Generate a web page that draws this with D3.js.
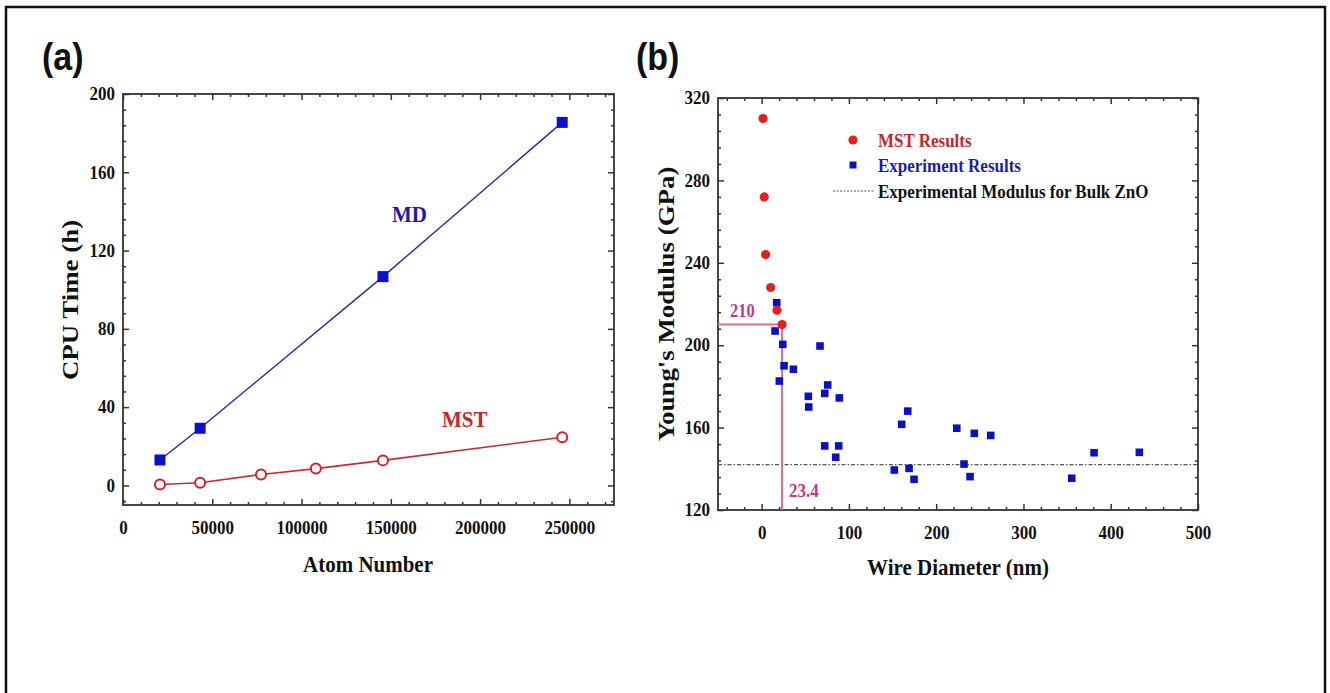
<!DOCTYPE html>
<html>
<head>
<meta charset="utf-8">
<script src="https://cdn.jsdelivr.net/npm/d3@7"></script>
<style>
  body { margin: 0; background: #fff; }
  svg text { font-family: "Liberation Serif", "Times New Roman", serif; font-weight: bold; }
</style>
</head>
<body>
<svg id="chart" width="1330" height="693"></svg>
<script>
// (a) CPU time vs atom number
const mdAtoms = [20700, 43200, 145600, 246000];
const mdTime = [13, 29.2, 106.7, 185.5];
const mstAtoms = [20700, 43200, 77300, 108000, 145600, 246000];
const mstTime = [0.5, 1.4, 5.6, 8.6, 12.8, 24.6];
const cpuXTicks = [0, 50000, 100000, 150000, 200000, 250000];
const cpuYTicks = [0, 40, 80, 120, 160, 200];

// (b) Young's modulus vs wire diameter
const mstDiam = [1.6, 3.0, 4.6, 10.4, 17.6, 23.4];
const mstModulus = [310, 272, 244, 228, 217, 210];
const expDiam = [17.3, 15.4, 24.2, 25.7, 36.4, 20.3, 66.9, 53.5, 54, 75.7, 72.3, 89, 72.3, 88.3,
  84.9, 160.5, 167.4, 152, 168.9, 174.6, 223.6, 243.7, 262.5, 231.9, 238.8, 355.3, 380.9, 432.8];
const expModulus = [220.6, 206.9, 200.4, 190, 188.3, 182.6, 199.6, 175.2, 170, 180.7, 176.6, 174.4, 151.1, 151.1,
  145.6, 161.6, 168, 139.4, 140.2, 134.9, 159.7, 157.2, 156.2, 142.3, 136.2, 135.4, 147.8, 148];
const bulkModulus = 142;
const markDiam = 23.4;
const markModulus = 210;
const wireXTicks = [0, 100, 200, 300, 400, 500];
const modYTicks = [120, 160, 200, 240, 280, 320];

// the source figure is a bit stretched vertically, so text gets a small y-scale
const stretch = 1.12;

const svg = d3.select('#chart');

// outer border of the figure
svg.append('path')
  .attr('d', 'M6,693 V7 H1325 V693')
  .attr('fill', 'none')
  .attr('stroke', '#111')
  .attr('stroke-width', 2.5);

const axisColor = '#333';

function label(g, x, y, txt, size, color, opts = {}) {
  const rot = opts.rotate ? ` rotate(${opts.rotate}) scale(${stretch},1)` : ` scale(1,${stretch})`;
  return g.append('text')
    .attr('transform', `translate(${x},${y})${rot}`)
    .attr('text-anchor', opts.anchor || 'start')
    .attr('font-size', size)
    .attr('fill', color)
    .text(txt);
}

// draws a boxed Origin-style frame with inward ticks on all four sides
function drawFrame(g, x, y, xMajor, xMinor, yMajor, yMinor, fmt) {
  const [x0, x1] = x.range();
  const [y0, y1] = y.range();

  const addAxis = (axis, transform, labels) => {
    const a = g.append('g').attr('transform', transform).call(axis);
    a.select('.domain').remove();
    a.selectAll('line').attr('stroke', axisColor).attr('stroke-width', 1.5);
    if (!labels) a.selectAll('text').remove();
    return a;
  };

  const bottom = addAxis(d3.axisBottom(x).tickValues(xMajor).tickSize(-6).tickPadding(11).tickFormat(fmt),
    `translate(0,${y0})`, true);
  bottom.selectAll('text')
    .attr('font-size', 17).attr('fill', '#111').attr('dy', '0.9em')
    .attr('transform', `scale(1,${stretch})`);
  addAxis(d3.axisBottom(x).tickValues(xMinor).tickSize(-3).tickFormat(''), `translate(0,${y0})`);
  addAxis(d3.axisTop(x).tickValues(xMajor).tickSize(-6).tickFormat(''), `translate(0,${y1})`);
  addAxis(d3.axisTop(x).tickValues(xMinor).tickSize(-3).tickFormat(''), `translate(0,${y1})`);

  const left = addAxis(d3.axisLeft(y).tickValues(yMajor).tickSize(-6).tickPadding(8).tickFormat(d3.format('d')),
    `translate(${x0},0)`, true);
  left.selectAll('text')
    .attr('font-size', 17).attr('fill', '#111').attr('dy', '0.3em')
    .attr('transform', `scale(1,${stretch})`);
  addAxis(d3.axisLeft(y).tickValues(yMinor).tickSize(-3).tickFormat(''), `translate(${x0},0)`);
  addAxis(d3.axisRight(y).tickValues(yMajor).tickSize(-6).tickFormat(''), `translate(${x1},0)`);
  addAxis(d3.axisRight(y).tickValues(yMinor).tickSize(-3).tickFormat(''), `translate(${x1},0)`);

  g.append('rect')
    .attr('x', x0).attr('y', y1)
    .attr('width', x1 - x0).attr('height', y0 - y1)
    .attr('fill', 'none')
    .attr('stroke', axisColor)
    .attr('stroke-width', 1.8);
}

// ---------- panel (a) ----------
const ga = svg.append('g');
const xa = d3.scaleLinear().domain([0, 275000]).range([123, 614]);
const ya = d3.scaleLinear().domain([-10, 200]).range([505, 94]);

drawFrame(ga, xa, ya, cpuXTicks,
  d3.range(10000, 275000, 10000).filter(d => d % 50000 !== 0),
  cpuYTicks,
  d3.range(-8, 200, 8).filter(d => d % 40 !== 0),
  d3.format('d'));

const lineA = d3.line().x(d => xa(d[0])).y(d => ya(d[1]));

ga.append('path')
  .datum(d3.zip(mdAtoms, mdTime))
  .attr('d', lineA)
  .attr('fill', 'none')
  .attr('stroke', '#2a2a9c')
  .attr('stroke-width', 1.4);

ga.append('path')
  .datum(d3.zip(mstAtoms, mstTime))
  .attr('d', lineA)
  .attr('fill', 'none')
  .attr('stroke', '#c82a36')
  .attr('stroke-width', 1.6);

ga.selectAll('.md')
  .data(d3.zip(mdAtoms, mdTime))
  .join('rect')
  .attr('x', d => xa(d[0]) - 5.5)
  .attr('y', d => ya(d[1]) - 5.5)
  .attr('width', 11).attr('height', 11)
  .attr('fill', '#0a10d0');

ga.selectAll('.mst')
  .data(d3.zip(mstAtoms, mstTime))
  .join('circle')
  .attr('cx', d => xa(d[0]))
  .attr('cy', d => ya(d[1]))
  .attr('r', 5)
  .attr('fill', '#fff')
  .attr('stroke', '#d42028')
  .attr('stroke-width', 2);

label(ga, 392, 222, 'MD', 21, '#1c1ca6');
label(ga, 442, 427, 'MST', 21, '#c4262e');
label(ga, 368, 572, 'Atom Number', 21, '#111', { anchor: 'middle' });
label(ga, 78, 300, 'CPU Time (h)', 24, '#111', { anchor: 'middle', rotate: -90 });

label(svg, 42, 70, '(a)', 34, '#111')
  .style('font-family', '"Liberation Sans", Arial, sans-serif');

// ---------- panel (b) ----------
const gb = svg.append('g');
const xb = d3.scaleLinear().domain([-50, 500]).range([718, 1198]);
const yb = d3.scaleLinear().domain([120, 320]).range([510, 98]);

drawFrame(gb, xb, yb, wireXTicks,
  d3.range(-40, 500, 20).filter(d => d % 100 !== 0),
  modYTicks,
  d3.range(128, 320, 8).filter(d => d % 40 !== 0),
  d3.format('d'));

// bulk modulus reference line
gb.append('line')
  .attr('x1', xb(-50)).attr('x2', xb(500))
  .attr('y1', yb(bulkModulus)).attr('y2', yb(bulkModulus))
  .attr('stroke', '#555')
  .attr('stroke-width', 1.2)
  .attr('stroke-dasharray', '4,2,1.5,2');

// guide lines to 210 GPa / 23.4 nm
gb.append('path')
  .attr('d', `M${xb(-50)},${yb(markModulus)} H${xb(markDiam)} V${yb(120)}`)
  .attr('fill', 'none')
  .attr('stroke', '#e2689c')
  .attr('stroke-width', 2);

gb.selectAll('.exp')
  .data(d3.zip(expDiam, expModulus))
  .join('rect')
  .attr('x', d => xb(d[0]) - 3.8)
  .attr('y', d => yb(d[1]) - 3.8)
  .attr('width', 7.6).attr('height', 7.6)
  .attr('fill', '#0c10c4');

gb.selectAll('.mstb')
  .data(d3.zip(mstDiam, mstModulus))
  .join('circle')
  .attr('cx', d => xb(d[0]))
  .attr('cy', d => yb(d[1]))
  .attr('r', 4.6)
  .attr('fill', '#e4201c');

label(gb, 730, 317, '210', 16.5, '#c0388a');
label(gb, 789, 497, '23.4', 17, '#c0388a');

// legend
const lg = gb.append('g');
lg.append('circle').attr('cx', 853).attr('cy', 140).attr('r', 4.6).attr('fill', '#e4201c');
label(lg, 878, 147, 'MST Results', 17, '#c4262e');
lg.append('rect').attr('x', 849.5).attr('y', 161.5).attr('width', 7).attr('height', 7).attr('fill', '#0c10c4');
label(lg, 878, 172, 'Experiment Results', 17, '#1c1ca6');
lg.append('line').attr('x1', 833).attr('x2', 874).attr('y1', 191).attr('y2', 191)
  .attr('stroke', '#555').attr('stroke-width', 1.2).attr('stroke-dasharray', '2,1.5');
label(lg, 878, 198, 'Experimental Modulus for Bulk ZnO', 17, '#111');

label(gb, 958, 575, 'Wire Diameter (nm)', 21, '#111', { anchor: 'middle' });
label(gb, 674, 304, "Young's Modulus (GPa)", 24, '#111', { anchor: 'middle', rotate: -90 });

label(svg, 636, 70, '(b)', 34, '#111')
  .style('font-family', '"Liberation Sans", Arial, sans-serif');
</script>
</body>
</html>
